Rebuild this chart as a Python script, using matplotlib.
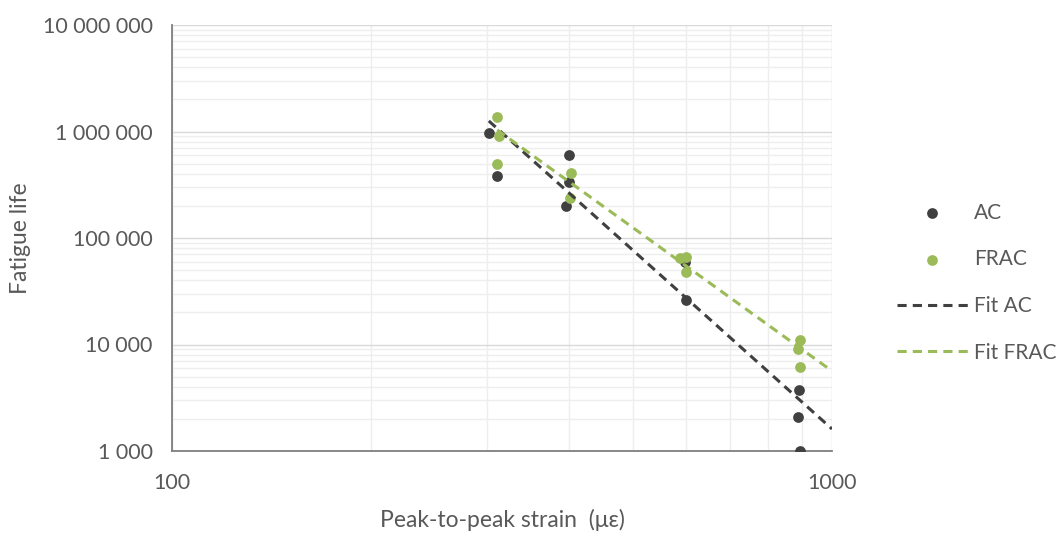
"""Fatigue life vs peak-to-peak strain, AC and FRAC."""

import matplotlib

matplotlib.use("Agg")
import matplotlib.pyplot as plt
import numpy as np
from matplotlib.ticker import FuncFormatter, LogLocator, NullFormatter

plt.rcParams["font.family"] = ["Lato", "DejaVu Sans"]

ac_strain = [302, 311, 400, 400, 395, 599, 601, 891, 889, 893]
ac_life = [970000, 382000, 601000, 336000, 200000, 59500, 26200, 3740, 2090, 1000]

frac_strain = [311, 313, 311, 402, 401, 588, 601, 601, 893, 889, 893]
frac_life = [1370000, 907000, 495000, 408000, 238000, 64900, 67000, 48000, 11000, 9080, 6150]

# power trendlines N = 10**a * strain**b
ac_fit = (19.893, -5.562)
frac_fit = (17.137, -4.462)

x_ticks = [100, 1000]
grey_text = "#595959"
ac_color = "#404040"
frac_color = "#9bbb59"


def trend(x, fit):
    a, b = fit
    xs = np.array([min(x), 1000.0])
    return xs, 10 ** (a + b * np.log10(xs))


def y_label(v, _pos):
    return f"{v:,.0f}".replace(",", " ")


fig = plt.figure(figsize=(10.58, 5.33), dpi=100)
ax = fig.add_axes([172 / 1058, 1 - 451 / 533, 660 / 1058, 426 / 533])
ax.set_xscale("log")
ax.set_yscale("log")
ax.set_xlim(100, 1000)
ax.set_ylim(1000, 1e7)

ax.scatter(ac_strain, ac_life, s=60, color=ac_color, zorder=3, label="AC", linewidths=0)
ax.scatter(frac_strain, frac_life, s=60, color=frac_color, zorder=4, label="FRAC", linewidths=0)

fx, fy = trend(ac_strain, ac_fit)
ax.plot(fx, fy, ls=(0, (3, 2)), lw=2.2, color=ac_color, zorder=5, label="Fit AC")
fx, fy = trend(frac_strain, frac_fit)
ax.plot(fx, fy, ls=(0, (3, 2)), lw=2.2, color=frac_color, zorder=5, label="Fit FRAC")

ax.yaxis.set_major_locator(LogLocator(base=10, numticks=10))
ax.yaxis.set_minor_locator(LogLocator(base=10, subs=np.arange(2, 10), numticks=20))
ax.xaxis.set_minor_locator(LogLocator(base=10, subs=np.arange(2, 10), numticks=20))
ax.set_xticks(x_ticks)
ax.set_xticklabels([str(v) for v in x_ticks])
ax.yaxis.set_major_formatter(FuncFormatter(y_label))
ax.xaxis.set_minor_formatter(NullFormatter())
ax.yaxis.set_minor_formatter(NullFormatter())

ax.grid(True, which="major", color="#d9d9d9", lw=1)
ax.grid(True, which="minor", color="#eeeeee", lw=1)
ax.set_axisbelow(True)
ax.tick_params(which="both", length=0, labelsize=15.5, colors=grey_text)
ax.tick_params(axis="y", pad=14)
ax.tick_params(axis="x", pad=15.5)
for side in ["top", "right"]:
    ax.spines[side].set_visible(False)
for side in ["left", "bottom"]:
    ax.spines[side].set_color("#7f7f7f")
    ax.spines[side].set_linewidth(1.3)

ax.set_xlabel("Peak-to-peak strain  (\u03bc\u03b5)", fontsize=16.5, color=grey_text, labelpad=11.5)
ax.set_ylabel("Fatigue life", fontsize=16.5, color=grey_text, labelpad=8)

leg = ax.legend(loc="center left", bbox_to_anchor=(1.07, 0.395), frameon=False, fontsize=15,
                labelspacing=1.28, handlelength=3.4, handletextpad=0.3)
for t in leg.get_texts():
    t.set_color(grey_text)

fig.savefig("out.png", dpi=100)
